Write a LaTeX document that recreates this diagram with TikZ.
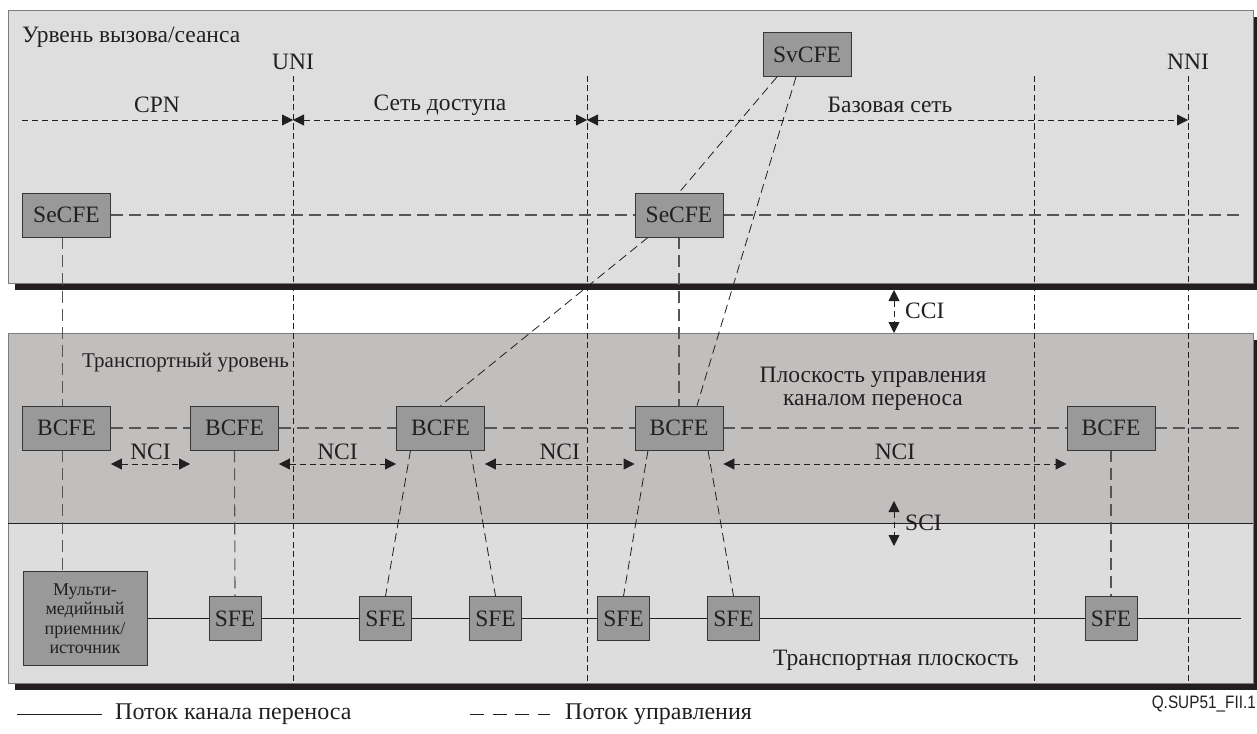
\documentclass[tikz,border=0pt]{standalone}
\usepackage{fontspec}
\setmainfont{Liberation Serif}
\newfontfamily\codesans{Liberation Sans}
\usetikzlibrary{arrows.meta,calc}

\definecolor{callbg}{RGB}{222,222,222}
\definecolor{ctrlbg}{RGB}{192,191,190}
\definecolor{transbg}{RGB}{221,221,221}
\definecolor{boxfill}{RGB}{153,153,153}
\definecolor{boxline}{RGB}{55,55,55}
\definecolor{shadowc}{RGB}{35,31,32}
\definecolor{rimc}{RGB}{125,125,125}
\definecolor{ctlgray}{RGB}{85,85,85}
\definecolor{inkc}{RGB}{35,31,32}

\newcommand\txtfont{\fontsize{23.5}{23}\selectfont}
\newcommand\smallerfont{\fontsize{21}{23}\selectfont}
\newcommand\mmfont{\fontsize{18}{19.5}\selectfont}
\newcommand\legfont{\fontsize{24}{26}\selectfont}

\pgfdeclarelayer{back}
\pgfdeclarelayer{wires}
\pgfsetlayers{back,wires,main}

\tikzset{
  fe/.style={draw=boxline, fill=boxfill, line width=0.8pt, inner sep=0pt,
    minimum width=88pt, minimum height=44pt, font=\txtfont, text=inkc},
  sfebox/.style={fe, minimum width=52pt},
  lbl/.style={font=\txtfont, text=inkc, inner sep=0pt},
  bound/.style={draw=inkc, line width=0.8pt, dash pattern=on 6pt off 3.5pt},
  ctl/.style={draw=ctlgray, line width=1.1pt, dash pattern=on 12pt off 6pt},
  slant/.style={draw=inkc, line width=0.8pt, dash pattern=on 9pt off 5pt},
  iface/.style={draw=inkc, line width=0.8pt, dash pattern=on 6pt off 4pt},
  bearer/.style={draw=inkc, line width=0.8pt},
  tip/.tip={Triangle[length=11pt,width=11pt]},
}

\begin{document}
\begin{tikzpicture}[x=1pt,y=-1pt]
\useasboundingbox (0,0) rectangle (1257,733);

% functional entities
\node[fe] (sv)  at (807,54.5) {SvCFE};
\node[fe] (se1) at (66.5,215) {SeCFE};
\node[fe] (se2) at (679,215) {SeCFE};
\node[fe] (b1) at (66.5,428) {BCFE};
\node[fe] (b2) at (234.5,428) {BCFE};
\node[fe] (b3) at (440.5,428) {BCFE};
\node[fe] (b4) at (679,428) {BCFE};
\node[fe] (b5) at (1111,428) {BCFE};
\node[fe, minimum width=124pt, minimum height=94pt, align=center, font=\mmfont]
  (mm) at (85,618.5) {Мульти-\\медийный\\приемник/\\источник};
\node[sfebox] (s1) at (235,618.5) {SFE};
\node[sfebox] (s2) at (385.5,618.5) {SFE};
\node[sfebox] (s3) at (495.5,618.5) {SFE};
\node[sfebox] (s4) at (623.5,618.5) {SFE};
\node[sfebox] (s5) at (733.5,618.5) {SFE};
\node[sfebox] (s6) at (1111,618.5) {SFE};

% free ends and reference points
\coordinate (seEnd) at (1240,215);
\coordinate (bEnd) at (1240,428);
\coordinate (bearerEnd) at (1241,618.5);
\coordinate (a0) at (22,120);
\coordinate (uniA) at (293,120);
\coordinate (midA) at (587,120);
\coordinate (nniA) at (1188,120);
\coordinate (uniT) at (293,76);   \coordinate (uniB) at (293,683);
\coordinate (midT) at (587,76);   \coordinate (midB) at (587,683);
\coordinate (corT) at (1034,76);  \coordinate (corB) at (1034,683);
\coordinate (nniT) at (1188,76);  \coordinate (nniB) at (1188,683);
\coordinate (cciT) at (894,290);  \coordinate (cciB) at (894,333);
\coordinate (sciT) at (894,501);  \coordinate (sciB) at (894,546);

% text labels
\node[lbl, anchor=west] (tCall) at (22,37) {Урвень вызова/сеанса};
\node[lbl] (tUni) at (293,62) {UNI};
\node[lbl] (tNni) at (1188,62) {NNI};
\node[lbl] (tCpn) at (157,105) {CPN};
\node[lbl] (tAcc) at (440,105) {Сеть доступа};
\node[lbl] (tCore) at (890,105) {Базовая сеть};
\node[lbl, anchor=west, font=\smallerfont] (tTrL) at (82,363) {Транспортный уровень};
\node[lbl, align=center] (tBcp) at (873,389) {Плоскость управления\\каналом переноса};
\node[lbl, anchor=west] (tTrP) at (773,660) {Транспортная плоскость};
\node[lbl, anchor=west] (tCci) at (905,311) {CCI};
\node[lbl, anchor=west] (tSci) at (905,523) {SCI};
\node[lbl] (n1) at ($(b1.east)!0.5!(b2.west)+(0,24)$) {NCI};
\node[lbl] (n2) at ($(b2.east)!0.5!(b3.west)+(0,24)$) {NCI};
\node[lbl] (n3) at ($(b3.east)!0.5!(b4.west)+(0,24)$) {NCI};
\node[lbl] (n4) at ($(b4.east)!0.5!(b5.west)+(0,24)$) {NCI};

% legend
\coordinate (lg1a) at (17,714);  \coordinate (lg1b) at (102,714);
\coordinate (lg2a) at (470,714); \coordinate (lg2b) at (550,714);
\node[lbl, anchor=west, font=\legfont] (tLg1) at (115,714) {Поток канала переноса};
\node[lbl, anchor=west, font=\legfont] (tLg2) at (565,714) {Поток управления};
\node[inner sep=0pt, anchor=east, text=inkc, font=\codesans\fontsize{18}{19}\selectfont] (tId) at (1256,704) {\resizebox{104pt}{\height}{Q.SUP51\_FII.1}};

\begin{pgfonlayer}{back}
  % call/session level
  \fill[shadowc] (15,17) rectangle (1257,290);
  \filldraw[fill=callbg, draw=rimc, line width=0.8pt] (8,10) rectangle (1253,283);
  % transport level
  \fill[shadowc] (15,340) rectangle (1257,690);
  \fill[ctrlbg] (8,333) rectangle (1253,523);
  \fill[transbg] (8,523) rectangle (1253,683);
  \draw[rimc, line width=0.8pt] (8,333) rectangle (1253,683);
  \draw[inkc, line width=0.8pt] (8,523) -- (1253,523);
\end{pgfonlayer}

\begin{pgfonlayer}{wires}
  % network boundaries
  \draw[bound] (uniT) -- (uniB);
  \draw[bound] (midT) -- (midB);
  \draw[bound] (corT) -- (corB);
  \draw[bound] (nniT) -- (nniB);
  % domain extents
  \draw[iface, -tip] (a0) -- (uniA);
  \draw[iface, tip-tip] (uniA) -- (midA);
  \draw[iface, tip-tip] (midA) -- (nniA);
  % interfaces
  \draw[iface, tip-tip] (cciT) -- (cciB);
  \draw[iface, tip-tip] (sciT) -- (sciB);
  \draw[iface, tip-tip] ($(b1.east)+(0,36)$) -- ($(b2.west)+(0,36)$);
  \draw[iface, tip-tip] ($(b2.east)+(0,36)$) -- ($(b3.west)+(0,36)$);
  \draw[iface, tip-tip] ($(b3.east)+(0,36)$) -- ($(b4.west)+(0,36)$);
  \draw[iface, tip-tip] ($(b4.east)+(0,36)$) -- ($(b5.west)+(0,36)$);
  % bearer flow
  \draw[bearer] (mm.east) -- (s1.west) (s1.east) -- (s2.west)
    (s2.east) -- (s3.west) (s3.east) -- (s4.west) (s4.east) -- (s5.west)
    (s5.east) -- (s6.west) (s6.east) -- (bearerEnd);
  % control flow
  \draw[ctl] (se1.east) -- (se2.west) (se2.east) -- (seEnd);
  \draw[ctl] (b1.east) -- (b2.west) (b2.east) -- (b3.west)
    (b3.east) -- (b4.west) (b4.east) -- (b5.west) (b5.east) -- (bEnd);
  \draw[ctl] ($(se1.south)+(-4,0)$) -- ($(b1.north)+(-4,0)$);
  \draw[ctl] ($(b1.south)+(-4,0)$) -- ($(b1.south |- mm.north)+(-4,0)$);
  \draw[ctl] (se2.south) -- (b4.north);
  \draw[ctl] (b2.south) -- (s1.north);
  \draw[ctl] (b5.south) -- (s6.north);
  \draw[slant] ($(sv.south)+(-30,0)$) -- (se2.north);
  \draw[slant] ($(se2.south)+(-31,0)$) -- (b3.north);
  \draw[slant] ($(sv.south)+(-11,0)$) -- ($(b4.north)+(18,0)$);
  \draw[slant] ($(b3.south)+(-30,0)$) -- (s2.north);
  \draw[slant] ($(b3.south)+(30,0)$) -- (s3.north);
  \draw[slant] ($(b4.south)+(-31,0)$) -- (s4.north);
  \draw[slant] ($(b4.south)+(29,0)$) -- (s5.north);
  % legend samples
  \draw[bearer] (lg1a) -- (lg1b);
  \draw[draw=inkc, line width=0.8pt, dash pattern=on 14pt off 8.7pt] (lg2a) -- (lg2b);
\end{pgfonlayer}
\end{tikzpicture}
\end{document}
